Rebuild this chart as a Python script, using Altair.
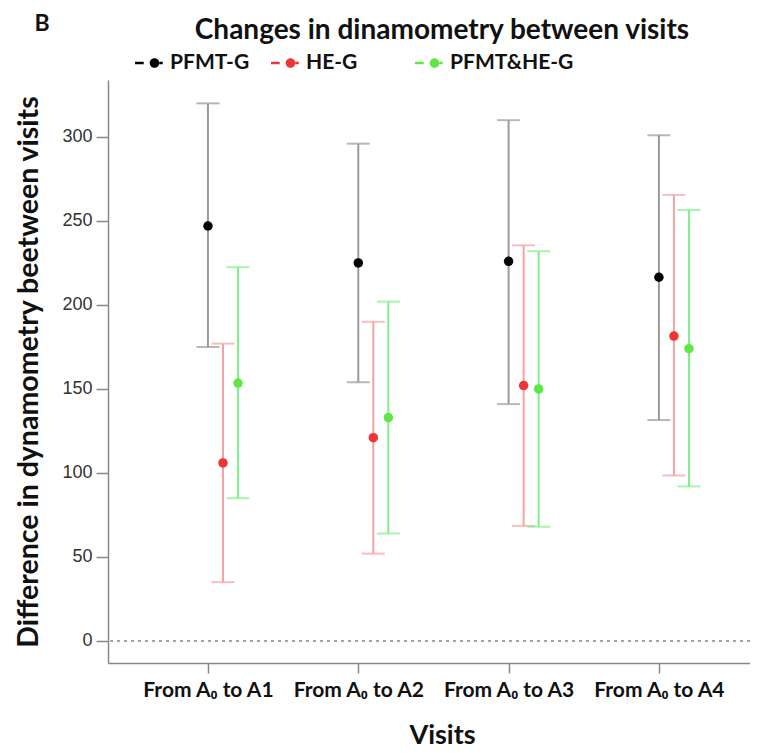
import altair as alt
import pandas as pd

visits = ["From A\u2080 to A1", "From A\u2080 to A2", "From A\u2080 to A3", "From A\u2080 to A4"]
groups = ["PFMT-G", "HE-G", "PFMT&HE-G"]
dodge = [0.0, 0.1, 0.2]

mean_pfmt = [247, 225, 226, 216.5]
low_pfmt = [175, 154, 141, 131.5]
high_pfmt = [320, 296, 310, 301]

mean_he = [106, 121, 152, 181.5]
low_he = [35, 52, 68.5, 98.5]
high_he = [177, 190, 235.5, 265.5]

mean_both = [153.5, 133, 150, 174]
low_both = [85, 64, 68, 92]
high_both = [222.5, 202, 232, 256.5]

point_colors = ["#000000", "#ee3535", "#5fe845"]
bar_colors = ["#9a9a9a", "#f4a3a3", "#80ef8c"]

rows = []
series = [(mean_pfmt, low_pfmt, high_pfmt), (mean_he, low_he, high_he), (mean_both, low_both, high_both)]
for g, (m, lo, hi), d in zip(groups, series, dodge):
    for i, v in enumerate(visits):
        rows.append({"group": g, "visit": v, "idx": i + 1, "pos": i + 1 + d,
                     "mean": m[i], "low": lo[i], "high": hi[i]})
df = pd.DataFrame(rows)

label_list = "[" + ",".join("'" + v + "'" for v in visits) + "]"

x_enc = alt.X("pos:Q",
              scale=alt.Scale(domain=[0.335, 4.606], nice=False, zero=False),
              axis=alt.Axis(values=[1, 2, 3, 4], labelExpr=label_list + "[datum.value-1]",
                            title="Visits", grid=False, titleX=334))
y_scale = alt.Scale(domain=[-13.1, 333.9], nice=False, zero=False)
y_axis = alt.Axis(values=[0, 50, 100, 150, 200, 250, 300],
                  title="Difference in dynamometry beetween visits", grid=False)

bar_color = alt.Color("group:N", scale=alt.Scale(domain=groups, range=bar_colors), legend=None)

base = alt.Chart(df)

rules = base.mark_rule(strokeWidth=2).encode(
    x=x_enc, y=alt.Y("low:Q", scale=y_scale, axis=y_axis), y2="high:Q", color=bar_color)
caps_hi = base.mark_tick(orient="horizontal", size=23, thickness=2).encode(
    x="pos:Q", y="high:Q", color=bar_color)
caps_lo = base.mark_tick(orient="horizontal", size=23, thickness=2).encode(
    x="pos:Q", y="low:Q", color=bar_color)

sym = ("M-1,-0.09H-0.42V0.09H-1Z "
       "M-0.02,0A0.32,0.32 0 1,0 0.62,0A0.32,0.32 0 1,0 -0.02,0Z "
       "M0.6,-0.09H0.85V0.09H0.6Z")

pad = "\u2007" * 3 + "\u200b"
points = base.mark_point(filled=True, size=90, opacity=1).encode(
    x="pos:Q", y="mean:Q",
    color=alt.Color("group:N", scale=alt.Scale(domain=groups, range=point_colors),
                    legend=alt.Legend(title=None, orient="none", legendX=27, legendY=-32,
                                      direction="horizontal", symbolType=sym, symbolSize=900,
                                      symbolStrokeWidth=0, labelFont="Lato", labelFontSize=21,
                                      labelFontWeight="bold", labelColor="#111",
                                      columnPadding=21, labelOffset=5,
                                      labelExpr="datum.label == 'HE-G' ? 'HE-G" + pad + "' : datum.label")))

zero_line = alt.Chart(alt.InlineData(values=[{"z": 0}])).mark_rule(
    color="#888888", strokeDash=[3, 4], strokeWidth=1.5).encode(y="z:Q")

panel_letter = alt.Chart(alt.InlineData(values=[{"t": "B"}])).mark_text(
    font="Lato", fontSize=23, fontWeight="bold", color="#111").encode(
    text="t:N", x=alt.value(-66), y=alt.value(-56))

chart = alt.layer(zero_line, rules, caps_hi, caps_lo, points, panel_letter).resolve_scale(
    color="independent"
).properties(
    width=642, height=583,
    title=alt.TitleParams("Changes in dinamometry between visits", font="Lato", fontSize=28,
                          fontWeight="bold", color="#111", anchor="middle", dx=13, offset=-32),
    autosize=alt.AutoSizeParams(type="none"),
    padding={"left": 100, "top": 72, "right": 0, "bottom": 90},
).configure_view(stroke=None).configure_axis(
    domainColor="#888888", domainWidth=1.5, tickColor="#888888", tickWidth=1.5,
    titleFont="Lato", titleFontWeight="bold", titleColor="#111",
).configure_axisY(
    labelFont="Liberation Sans", labelFontSize=18, labelColor="#333", tickSize=12,
    labelPadding=4, titleFontSize=28.5, titlePadding=18,
).configure_axisX(
    labelFont="Lato", labelFontSize=21, labelFontWeight="bold", labelColor="#111",
    tickSize=10, labelPadding=6, titleFontSize=27, titlePadding=22,
)

chart.save("out.html", embed_options={"renderer": "svg", "actions": False})
